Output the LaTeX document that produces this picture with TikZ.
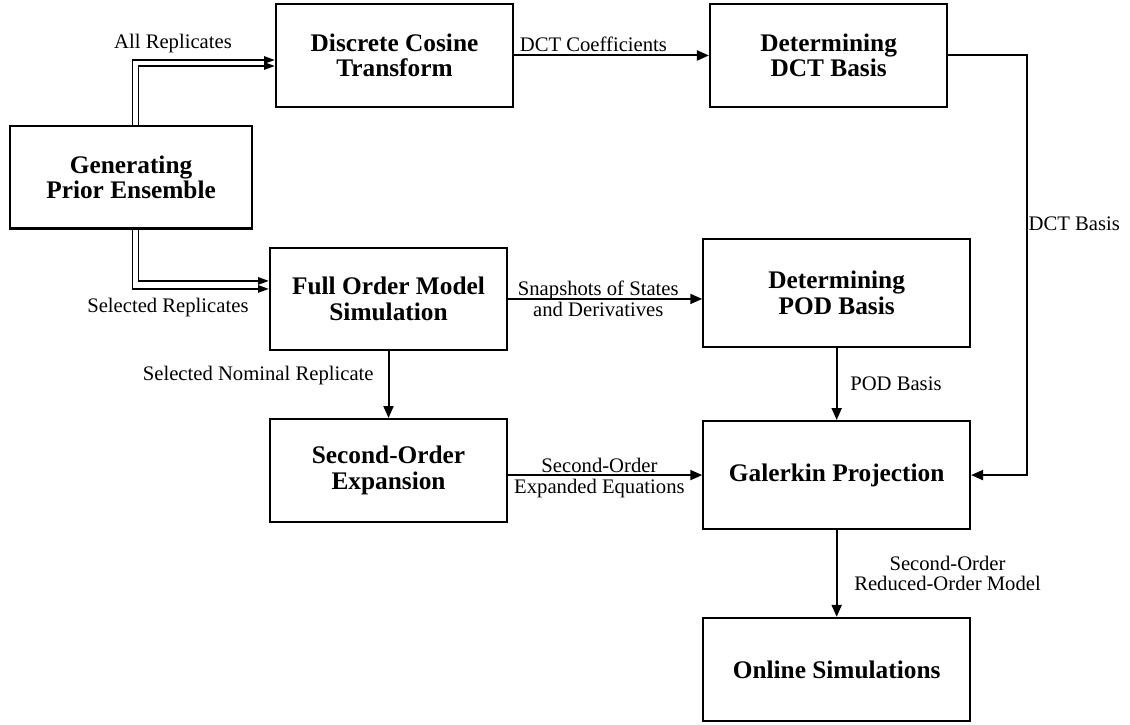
\documentclass[tikz,border=0pt]{standalone}
\usepackage{fontspec}
\setmainfont{Liberation Serif}
\usepackage{tikz}
\usetikzlibrary{arrows.meta,positioning,calc}

\begin{document}
\begin{tikzpicture}[
    blockbox/.style={rectangle, draw, line width=1.6pt, minimum height=77pt,
                  minimum width=178pt, align=center, inner sep=2pt,
                  font=\fontsize{19}{19}\selectfont\bfseries},
    widebox/.style={blockbox, minimum height=81pt, minimum width=200pt},
    arrow/.style={-{Triangle[length=9pt,width=7.5pt]}, line width=1.5pt},
    dblarrow/.style={-{Triangle[length=8pt,width=5.5pt]}, line width=1.2pt},
    lbl/.style={font=\fontsize{15.5}{15.5}\selectfont, inner sep=1pt, align=center},
]
\useasboundingbox (-295.9pt,-502.1pt) rectangle (551.6pt,41.6pt);

% Top row
\node[blockbox] (dct) {Discrete Cosine\\Transform};
\node[blockbox, right=146pt of dct] (detdct) {Determining\\DCT Basis};

% Left and middle column
\node[blockbox, below=104pt of dct, xshift=-4.5pt] (fom) {Full Order Model\\Simulation};
\node[blockbox, below=50pt of fom] (soe) {Second-Order\\Expansion};
\coordinate (gapmid) at ($(dct.south west)!0.5!(fom.north west)$);
\node[blockbox, minimum width=181.5pt, left=14pt of gapmid] (gen) {Generating\\Prior Ensemble};

% Right column
\node[widebox, right=145.5pt of fom, yshift=4.5pt] (pod) {Determining\\POD Basis};
\node[widebox, below=54pt of pod] (gal) {Galerkin Projection};
\node[widebox, minimum height=77.5pt, below=65pt of gal] (onl) {Online Simulations};

% Arrows
\draw[dblarrow] ([xshift=1pt]gen.north) |- ([yshift=-3.4pt]dct.west);
\draw[dblarrow] ([xshift=5.5pt]gen.north) |- ([yshift=-7.9pt]dct.west);
\draw[dblarrow] ([xshift=1pt]gen.south) |- ([yshift=7.5pt]fom.west);
\draw[dblarrow] ([xshift=5.5pt]gen.south) |- ([yshift=13.5pt]fom.west);
\draw[arrow] (dct) -- (detdct);
\draw[arrow] (fom.east) -- (fom.east -| pod.west);
\draw[arrow] (fom) -- (soe);
\draw[arrow] (pod) -- (gal);
\draw[arrow] (soe.east |- gal.west) -- (gal.west);
\draw[arrow] (gal) -- (onl);
\coordinate[right=59pt of detdct.east] (turn);
\draw[arrow] (detdct.east) -- (turn) |- (gal.east);

% Labels
\node[lbl, above left=1pt and 31pt of dct.west] (lblall) {All Replicates};
\node[lbl, anchor=north east] (lblsel) at ($(fom.west)+(-14pt,2pt)$) {Selected Replicates};
\node[lbl, above right=2pt and 3pt of dct.east] (lblcoef) {DCT Coefficients};
\coordinate (nommid) at ($(fom.south)!0.37!(soe.north)$);
\node[lbl, left=10pt of nommid] (lblnom) {Selected Nominal Replicate};
\coordinate (snapmid) at ($(fom.east)!0.464!(fom.east -| pod.west)$);
\node[lbl] (lblsnap) at (snapmid) {Snapshots of States\\and Derivatives};
\coordinate (expmid) at ($(soe.east |- gal.west)!0.47!(gal.west)$);
\node[lbl, yshift=-2pt] (lblexp) at (expmid) {Second-Order\\Expanded Equations};
\coordinate (podmid) at ($(pod.south)!0.5!(gal.north)$);
\node[lbl, right=9pt of podmid] (lblpod) {POD Basis};
\coordinate (romid) at ($(gal.south)!0.5!(onl.north)$);
\node[lbl, right=12pt of romid] (lblrom) {Second-Order\\Reduced-Order Model};
\coordinate (dctbmid) at ($(turn)!0.4!(turn |- gal.east)$);
\node[lbl, right=0pt of dctbmid] (lbldctb) {DCT Basis};

\end{tikzpicture}
\end{document}
